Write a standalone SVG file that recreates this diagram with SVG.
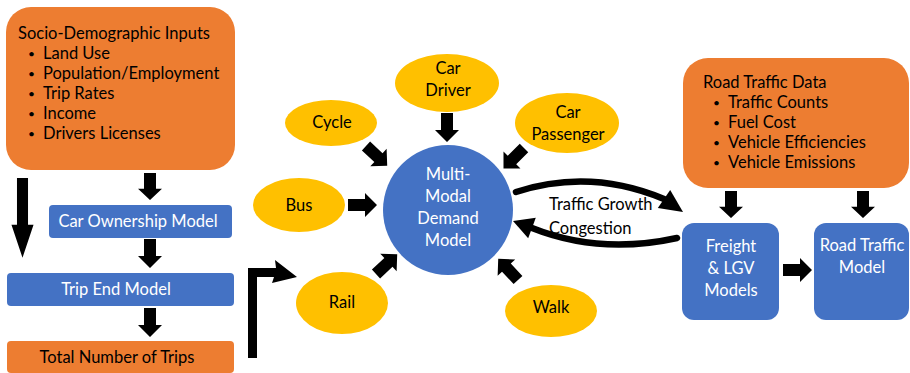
<svg xmlns="http://www.w3.org/2000/svg" width="910" height="373" viewBox="0 0 910 373">
  <defs>
    <!-- block arrow pointing right, tail at origin -->
    <path id="blk" d="M0,-6 L17,-6 L17,-12 L29,0 L17,12 L17,6 L0,6 Z"/>
  </defs>
  <style>
    text { font-family: Lato, "Open Sans", "Liberation Sans", sans-serif; font-size: 16.5px; }
    .dk { fill: #000; }
    .wt { fill: #fff; }
    .mid { text-anchor: middle; }
    .bul { font-size: 12px; }
    .org { fill: #ED7D31; }
    .blu { fill: #4472C4; }
    .yel { fill: #FFC000; }
    .arr { fill: #000; }
    .crv { fill: none; stroke: #000; stroke-width: 6.5; stroke-linecap: round; }
  </style>

  <!-- input and model nodes -->
  <g id="socio">
    <rect class="org" x="6" y="7" width="229" height="163" rx="25"/>
    <text class="dk" x="18" y="39">Socio-Demographic Inputs</text>
    <g class="dk">
      <text class="bul" x="28" y="58">•</text><text x="43" y="59">Land Use</text>
      <text class="bul" x="28" y="78">•</text><text x="43" y="79">Population/Employment</text>
      <text class="bul" x="28" y="98">•</text><text x="43" y="99">Trip Rates</text>
      <text class="bul" x="28" y="118">•</text><text x="43" y="119">Income</text>
      <text class="bul" x="28" y="138">•</text><text x="43" y="139">Drivers Licenses</text>
    </g>
  </g>

  <g id="car-ownership">
    <rect class="blu" x="49" y="205" width="183" height="33" rx="4"/>
    <text class="wt mid" x="138" y="227">Car Ownership Model</text>
  </g>

  <g id="trip-end">
    <rect class="blu" x="7" y="273" width="227" height="33" rx="4"/>
    <text class="wt mid" x="116" y="295">Trip End Model</text>
  </g>

  <g id="total-trips">
    <rect class="org" x="7" y="341" width="227" height="32" rx="4"/>
    <text class="dk mid" x="117" y="363">Total Number of Trips</text>
  </g>

  <g id="car-driver">
    <ellipse class="yel" cx="447" cy="83" rx="52" ry="29"/>
    <text class="dk mid" x="448" y="74">Car</text>
    <text class="dk mid" x="448" y="96">Driver</text>
  </g>

  <g id="cycle">
    <ellipse class="yel" cx="331" cy="123" rx="46" ry="23"/>
    <text class="dk mid" x="332" y="128">Cycle</text>
  </g>

  <g id="car-passenger">
    <ellipse class="yel" cx="567" cy="123" rx="52" ry="30"/>
    <text class="dk mid" x="568" y="118">Car</text>
    <text class="dk mid" x="568" y="140">Passenger</text>
  </g>

  <g id="bus">
    <ellipse class="yel" cx="299" cy="205" rx="46" ry="27"/>
    <text class="dk mid" x="299" y="211">Bus</text>
  </g>

  <g id="rail">
    <ellipse class="yel" cx="342" cy="303" rx="46" ry="31"/>
    <text class="dk mid" x="342" y="308">Rail</text>
  </g>

  <g id="walk">
    <ellipse class="yel" cx="551" cy="311" rx="46" ry="26"/>
    <text class="dk mid" x="551" y="313">Walk</text>
  </g>

  <g id="demand-model">
    <circle class="blu" cx="448" cy="210" r="65"/>
    <text class="wt mid" x="448" y="180">Multi-</text>
    <text class="wt mid" x="448" y="202">Modal</text>
    <text class="wt mid" x="448" y="224">Demand</text>
    <text class="wt mid" x="448" y="246">Model</text>
  </g>

  <g id="road-data">
    <rect class="org" x="683" y="58" width="226" height="130" rx="25"/>
    <text class="dk" x="703" y="88">Road Traffic Data</text>
    <g class="dk">
      <text class="bul" x="713" y="107">•</text><text x="728" y="108">Traffic Counts</text>
      <text class="bul" x="713" y="127">•</text><text x="728" y="128">Fuel Cost</text>
      <text class="bul" x="713" y="147">•</text><text x="728" y="148">Vehicle Efficiencies</text>
      <text class="bul" x="713" y="167">•</text><text x="728" y="168">Vehicle Emissions</text>
    </g>
  </g>

  <g id="freight">
    <rect class="blu" x="682" y="223" width="97" height="97" rx="12"/>
    <text class="wt mid" x="731" y="252">Freight</text>
    <text class="wt mid" x="731" y="274">&amp; LGV</text>
    <text class="wt mid" x="731" y="296">Models</text>
  </g>

  <g id="road-model">
    <rect class="blu" x="814" y="223" width="95" height="97" rx="12"/>
    <text class="wt mid" x="862" y="251">Road Traffic</text>
    <text class="wt mid" x="862" y="273">Model</text>
  </g>

  <!-- connectors -->
  <g id="connectors">
    <g class="arr">
      <!-- left column -->
      <use href="#blk" transform="translate(22.5,178) rotate(90) scale(2.75,0.92)"/>
      <use href="#blk" transform="translate(150,173) rotate(90) scale(0.93,1)"/>
      <use href="#blk" transform="translate(150,239) rotate(90) scale(1,1)"/>
      <use href="#blk" transform="translate(150,308) rotate(90) scale(1,1)"/>
      <!-- elbow from total trips towards rail -->
      <path d="M248,358 L248,268 L276,268 L275,260 L297,277 L272,283 L274,277 L257,277 L257,358 Z"/>
      <!-- modes into demand model -->
      <use href="#blk" transform="translate(447,113) rotate(90)"/>
      <use href="#blk" transform="translate(366,146) rotate(43)"/>
      <use href="#blk" transform="translate(524,148) rotate(135)"/>
      <use href="#blk" transform="translate(348,205)"/>
      <use href="#blk" transform="translate(376,274) rotate(-43)"/>
      <use href="#blk" transform="translate(518,280) rotate(-133)"/>
      <!-- road data outputs -->
      <use href="#blk" transform="translate(731,191) rotate(90) scale(0.93,1)"/>
      <use href="#blk" transform="translate(863,191) rotate(90) scale(0.93,1)"/>
      <use href="#blk" transform="translate(783,270)"/>
    </g>
    <!-- feedback loop between demand model and freight -->
    <path class="crv" d="M516,192 Q590,168 664,199"/>
    <polygon class="arr" points="683,212 657.8,208.1 670.2,189.9"/>
    <path class="crv" d="M677,238 Q600,255 532,228"/>
    <polygon class="arr" points="513,221 535.8,217.7 528.2,238.3"/>
    <text class="dk" x="549" y="210">Traffic Growth</text>
    <text class="dk" x="549" y="234">Congestion</text>
  </g>
</svg>
